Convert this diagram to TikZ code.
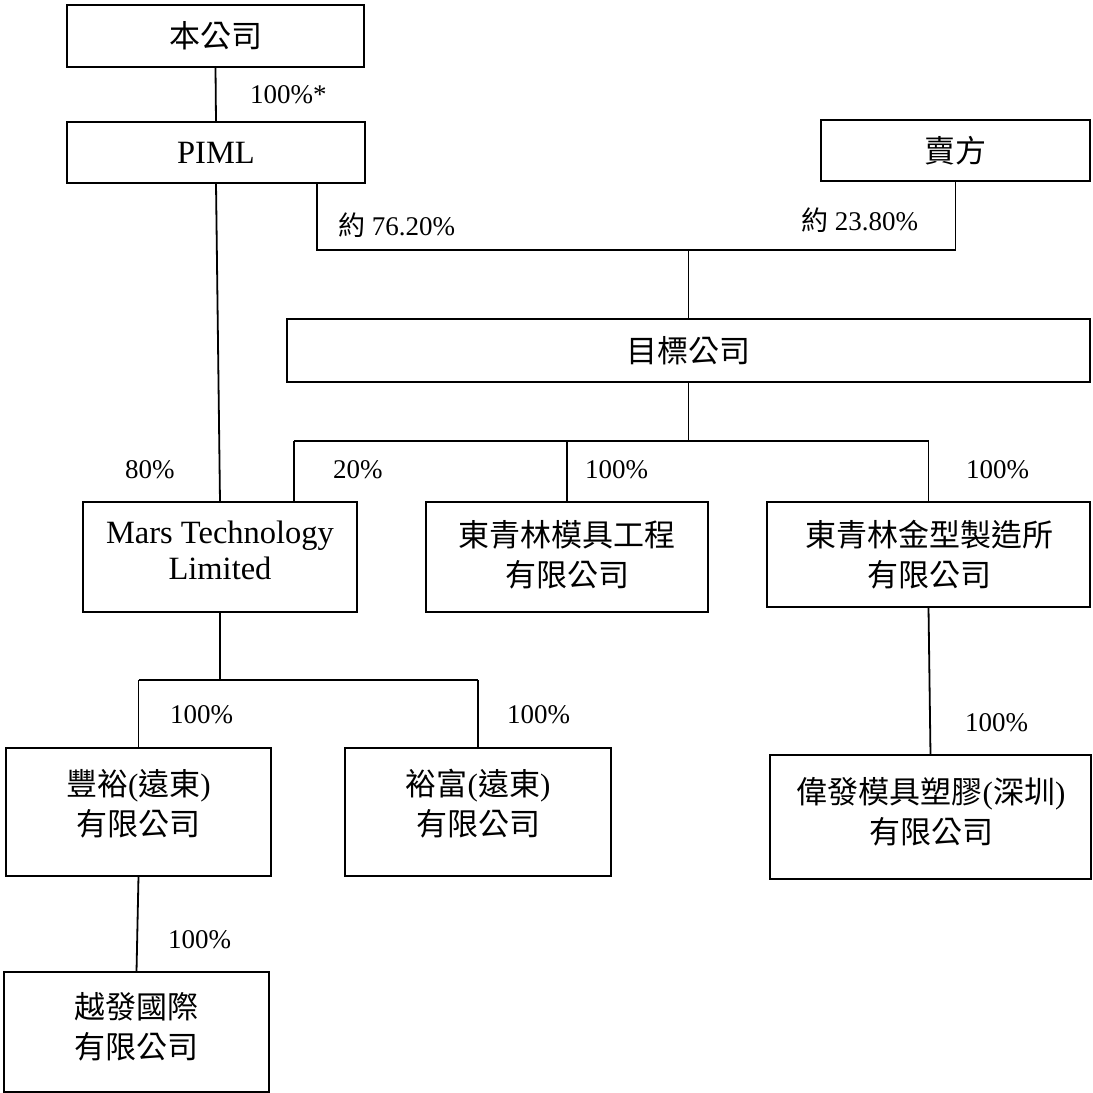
\documentclass[tikz,border=0pt]{standalone}
\usepackage{fontspec}
\setmainfont{Liberation Serif}
\newfontfamily\cjk{Noto Sans CJK TC}
\newcommand{\C}[1]{{\cjk #1}}
\begin{document}
\begin{tikzpicture}[x=1pt,y=-1pt,
  box/.style={draw, line width=1.8pt, rectangle, inner sep=0pt, outer sep=0pt, font=\fontsize{31}{40}\selectfont},
  txt/.style={inner sep=0pt, align=center, font=\fontsize{31}{40}\selectfont},
  txtl/.style={inner sep=0pt, align=center, font=\fontsize{32.5}{36}\selectfont},
  pct/.style={inner sep=0pt, anchor=west, font=\fontsize{27}{30}\selectfont},
  conn/.style={line width=1.8pt}]
\fill[white] (0,0) rectangle (1093,1093);
\useasboundingbox (0,0) rectangle (1093,1093);

% boxes
\node[box, minimum width=297pt, minimum height=62pt] (top) at (215.5,36) {\C{本公司}};
\node[box, minimum width=298pt, minimum height=61pt, font=\fontsize{32.5}{36}\selectfont] (piml) at (216,152.5) {PIML};
\node[box, minimum width=269pt, minimum height=61pt] (seller) at (955.5,150.5) {\C{賣方}};
\node[box, minimum width=803pt, minimum height=63pt] (target) at (688.5,350.5) {\C{目標公司}};

\node[box, minimum width=274pt, minimum height=110pt] (mars) at (220,557) {};
\node[txtl] (marsT) at (220,550) {Mars Technology\\Limited};
\node[box, minimum width=282pt, minimum height=110pt] (mould) at (567,557) {};
\node[txt] (mouldT) at (567,554.5) {\C{東青林模具工程}\\\C{有限公司}};
\node[box, minimum width=323pt, minimum height=105pt] (metal) at (928.5,554.5) {};
\node[txt] (metalT) at (929,555) {\C{東青林金型製造所}\\\C{有限公司}};

\node[box, minimum width=265pt, minimum height=128pt] (fy) at (138.5,812) {};
\node[txt] (fyT) at (138.5,803.5) {\C{豐裕}(\C{遠東})\\\C{有限公司}};
\node[box, minimum width=266pt, minimum height=128pt] (yf) at (478,812) {};
\node[txt] (yfT) at (478,803.5) {\C{裕富}(\C{遠東})\\\C{有限公司}};
\node[box, minimum width=321pt, minimum height=124pt] (wf) at (930.5,817) {};
\node[txt] (wfT) at (931,811.5) {\C{偉發模具塑膠}(\C{深圳})\\\C{有限公司}};
\node[box, minimum width=265pt, minimum height=120pt] (yue) at (136.5,1032) {};
\node[txt] (yueT) at (136.5,1026.5) {\C{越發國際}\\\C{有限公司}};

% connectors
\coordinate (j1) at (688.5,250);
\coordinate (j2) at (688.5,441);
\coordinate (h20) at (294,441);
\coordinate (j3) at (220,680);
\draw[conn] (top.south) -- (piml.north);
\draw[conn] ([xshift=101pt]piml.south) |- (j1) -- (target.north);
\draw[conn] (seller.south) |- (j1);
\draw[conn] (piml.south) -- (mars.north);
\draw[conn] (target.south) -- (j2);
\draw[conn] (h20) -- (metal.north |- j2);
\draw[conn] (h20) -- (h20 |- mars.north);
\draw[conn] (mould.north |- j2) -- (mould.north);
\draw[conn] (metal.north |- j2) -- (metal.north);
\draw[conn] (mars.south) -- (j3);
\draw[conn] (fy.north |- j3) -- (yf.north |- j3);
\draw[conn] (fy.north |- j3) -- (fy.north);
\draw[conn] (yf.north |- j3) -- (yf.north);
\draw[conn] (metal.south) -- (wf.north);
\draw[conn] (fy.south) -- (yue.north);

% labels
\node[pct] (l1) at (250,95) {100\%*};
\node[pct] (l2) at (338,225) {\C{約} 76.20\%};
\node[pct] (l3) at (801,220) {\C{約} 23.80\%};
\node[pct] (l4) at (125,470) {80\%};
\node[pct] (l5) at (333,470) {20\%};
\node[pct] (l6) at (585,470) {100\%};
\node[pct] (l7) at (966,470) {100\%};
\node[pct] (l8) at (170,715) {100\%};
\node[pct] (l9) at (507,715) {100\%};
\node[pct] (l10) at (965,723) {100\%};
\node[pct] (l11) at (168,940) {100\%};
\end{tikzpicture}
\end{document}
